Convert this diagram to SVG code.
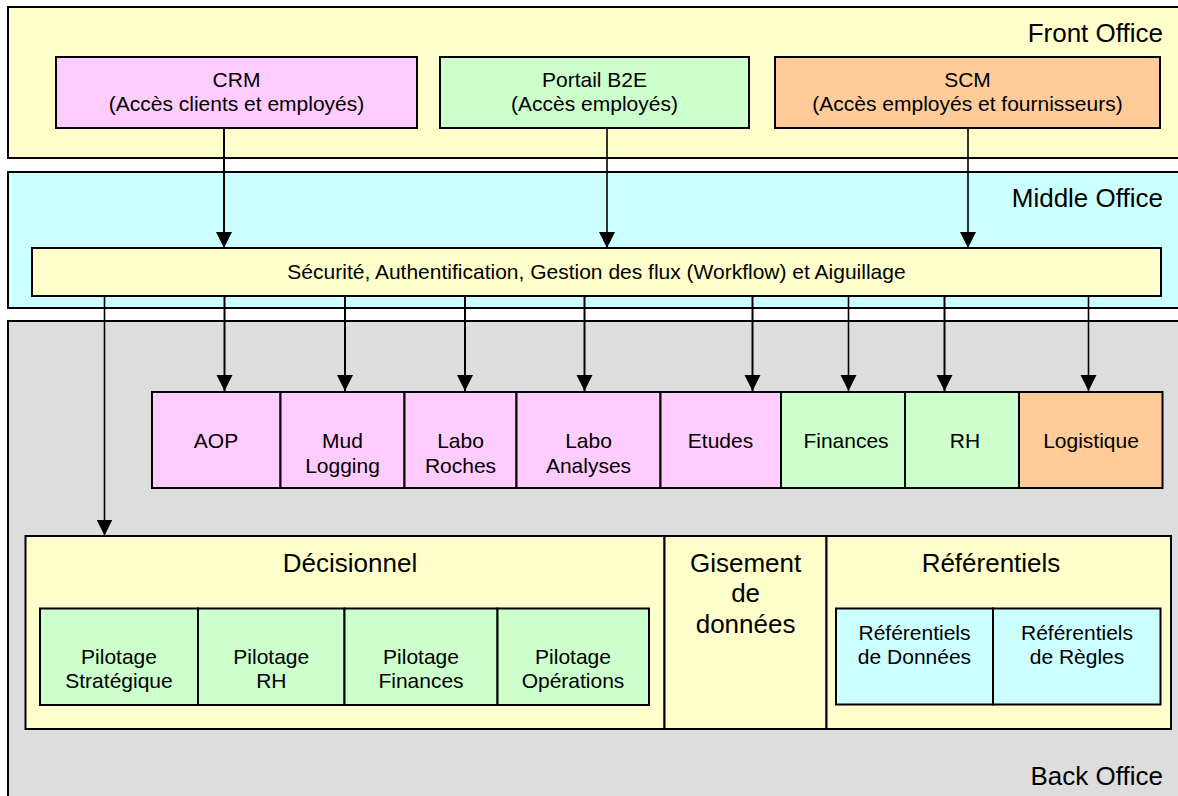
<svg xmlns="http://www.w3.org/2000/svg" width="1178" height="796" viewBox="0 0 1178 796">
<style>
.b{stroke:#000;stroke-width:2}
.fy{fill:#FFFFCC}.fc{fill:#CCFFFF}.fg{fill:#DDDDDD}.fp{fill:#FFCCFF}.fn{fill:#CCFFCC}.fo{fill:#FFCC99}
text{font-family:"Liberation Sans",Arial,sans-serif;fill:#000}
.t{font-size:21px;text-anchor:middle}
.h{font-size:26px;text-anchor:middle}
.o{font-size:26px;text-anchor:end}
.c{stroke:#000;stroke-width:2;fill:none;marker-end:url(#ah)}
</style>
<defs>
<marker id="ah" markerUnits="userSpaceOnUse" markerWidth="17" markerHeight="17" viewBox="0 0 17 17" refX="16" refY="8.5" orient="auto">
<path d="M0,0.5 L16,8.5 L0,16.5 Z" fill="#000"/>
</marker>
</defs>
<rect width="1178" height="796" fill="#fff"/>
<g id="front-office">
<rect class="b fy" x="8" y="7" width="1185" height="151"/>
<text class="o" x="1163" y="41.5">Front Office</text>
</g>
<g id="middle-office">
<rect class="b fc" x="8" y="172" width="1185" height="136"/>
<text class="o" x="1163" y="206.5">Middle Office</text>
</g>
<g id="back-office">
<rect class="b fg" x="8" y="321" width="1185" height="490"/>
<text class="o" x="1163" y="785">Back Office</text>
</g>
<g id="crm">
<rect class="b fp" x="56" y="57" width="361" height="71"/>
<text class="t" x="236.5" y="87.3">CRM</text>
<text class="t" x="236.5" y="111">(Accès clients et employés)</text>
</g>
<g id="portail">
<rect class="b fn" x="440" y="57" width="309" height="71"/>
<text class="t" x="594.5" y="87.3">Portail B2E</text>
<text class="t" x="594.5" y="111">(Accès employés)</text>
</g>
<g id="scm">
<rect class="b fo" x="775" y="57" width="385" height="71"/>
<text class="t" x="967.5" y="87.3">SCM</text>
<text class="t" x="967.5" y="111">(Accès employés et fournisseurs)</text>
</g>
<g id="securite">
<rect class="b fy" x="32" y="248" width="1129" height="48"/>
<text class="t" x="596.5" y="279">Sécurité, Authentification, Gestion des flux (Workflow) et Aiguillage</text>
</g>
<g id="aop">
<rect class="b fp" x="152" y="392" width="128.5" height="96"/>
<text class="t" x="216" y="447.5">AOP</text>
</g>
<g id="mud">
<rect class="b fp" x="280.5" y="392" width="124" height="96"/>
<text class="t" x="342.5" y="447.5">Mud</text>
<text class="t" x="342.5" y="472.5">Logging</text>
</g>
<g id="labo-roches">
<rect class="b fp" x="404.5" y="392" width="112" height="96"/>
<text class="t" x="460.5" y="447.5">Labo</text>
<text class="t" x="460.5" y="472.5">Roches</text>
</g>
<g id="labo-analyses">
<rect class="b fp" x="516.5" y="392" width="144" height="96"/>
<text class="t" x="588.5" y="447.5">Labo</text>
<text class="t" x="588.5" y="472.5">Analyses</text>
</g>
<g id="etudes">
<rect class="b fp" x="660.5" y="392" width="120.5" height="96"/>
<text class="t" x="720.5" y="447.5">Etudes</text>
</g>
<g id="finances">
<rect class="b fn" x="781" y="392" width="124" height="96"/>
<text class="t" x="846" y="447.5">Finances</text>
</g>
<g id="rh">
<rect class="b fn" x="905" y="392" width="114" height="96"/>
<text class="t" x="965" y="447.5">RH</text>
</g>
<g id="logistique">
<rect class="b fo" x="1019" y="392" width="143.5" height="96"/>
<text class="t" x="1091" y="447.5">Logistique</text>
</g>
<g id="decisionnel">
<rect class="b fy" x="25.5" y="536" width="639" height="193"/>
<text class="h" x="350" y="571.7">Décisionnel</text>
</g>
<g id="pilotage-strategique">
<rect class="b fn" x="40" y="608.5" width="158" height="96.5"/>
<text class="t" x="119" y="664.3">Pilotage</text>
<text class="t" x="119" y="688.3">Stratégique</text>
</g>
<g id="pilotage-rh">
<rect class="b fn" x="198" y="608.5" width="146.5" height="96.5"/>
<text class="t" x="271.3" y="664.3">Pilotage</text>
<text class="t" x="271.3" y="688.3">RH</text>
</g>
<g id="pilotage-finances">
<rect class="b fn" x="344.5" y="608.5" width="153" height="96.5"/>
<text class="t" x="421" y="664.3">Pilotage</text>
<text class="t" x="421" y="688.3">Finances</text>
</g>
<g id="pilotage-operations">
<rect class="b fn" x="497.5" y="608.5" width="151.5" height="96.5"/>
<text class="t" x="573" y="664.3">Pilotage</text>
<text class="t" x="573" y="688.3">Opérations</text>
</g>
<g id="gisement">
<rect class="b fy" x="664.5" y="536" width="162" height="193"/>
<text class="h" x="745.6" y="571.7">Gisement</text>
<text class="h" x="745.6" y="602.2">de</text>
<text class="h" x="745.6" y="632.7">données</text>
</g>
<g id="referentiels">
<rect class="b fy" x="826.5" y="536" width="344.5" height="193"/>
<text class="h" x="991" y="571.7">Référentiels</text>
</g>
<g id="ref-donnees">
<rect class="b fc" x="836" y="608.5" width="157" height="96"/>
<text class="t" x="914.5" y="640">Référentiels</text>
<text class="t" x="914.5" y="663.5">de Données</text>
</g>
<g id="ref-regles">
<rect class="b fc" x="993" y="608.5" width="167.5" height="96"/>
<text class="t" x="1077" y="640">Référentiels</text>
<text class="t" x="1077" y="663.5">de Règles</text>
</g>
<g id="connectors">
<line class="c" x1="224" y1="128" x2="224" y2="248"/>
<line class="c" x1="607" y1="128" x2="607" y2="248" style="stroke-width:1.6"/>
<line class="c" x1="968" y1="128" x2="968" y2="248" style="stroke-width:1.6"/>
<line class="c" x1="104.5" y1="296" x2="104.5" y2="535.5" style="stroke-width:1.6"/>
<line class="c" x1="224.5" y1="296" x2="224.5" y2="391"/>
<line class="c" x1="345" y1="296" x2="345" y2="391"/>
<line class="c" x1="465" y1="296" x2="465" y2="391"/>
<line class="c" x1="584.5" y1="296" x2="584.5" y2="391"/>
<line class="c" x1="752.5" y1="296" x2="752.5" y2="391"/>
<line class="c" x1="848.5" y1="296" x2="848.5" y2="391" style="stroke-width:1.6"/>
<line class="c" x1="944.5" y1="296" x2="944.5" y2="391"/>
<line class="c" x1="1088.5" y1="296" x2="1088.5" y2="391" style="stroke-width:1.6"/>
</g>
</svg>
